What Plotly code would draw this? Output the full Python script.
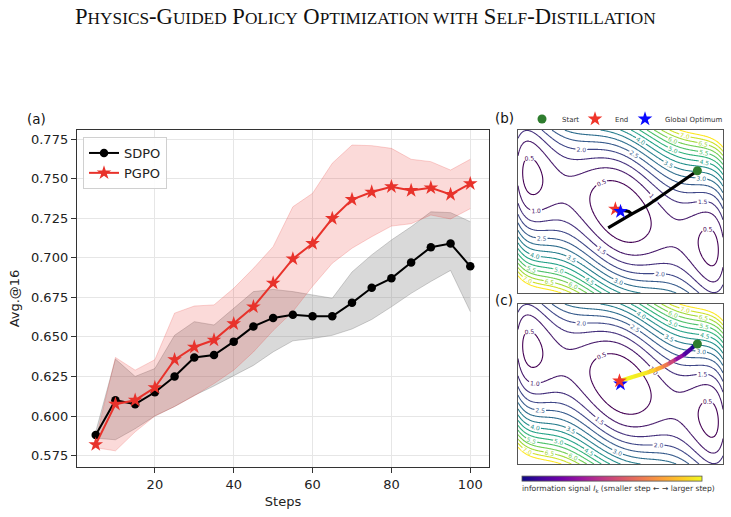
import numpy as np
import plotly.graph_objects as go
from plotly.colors import sample_colorscale

W, H = 731, 517

# ---------------- data: panel (a) ----------------
steps = [5, 10, 15, 20, 25, 30, 35, 40, 45, 50, 55, 60, 65, 70, 75, 80, 85, 90, 95, 100]
sdpo = [0.588, 0.610, 0.6075, 0.615, 0.625, 0.637, 0.6385, 0.647, 0.6566, 0.662,
        0.664, 0.663, 0.663, 0.6715, 0.681, 0.687, 0.697, 0.7066, 0.709, 0.6946]
sdpo_upper = [0.590, 0.636, 0.625, 0.630, 0.651, 0.6596, 0.6575, 0.668, 0.6786, 0.680,
              0.6786, 0.6765, 0.6744, 0.691, 0.7018, 0.7112, 0.7196, 0.729, 0.7285, 0.7228]
sdpo_lower = [0.586, 0.585, 0.592, 0.600, 0.606, 0.613, 0.619, 0.6255, 0.632, 0.6405,
              0.6475, 0.649, 0.651, 0.655, 0.661, 0.669, 0.6775, 0.685, 0.692, 0.666]
pgpo = [0.582, 0.6075, 0.610, 0.618, 0.6356, 0.6436, 0.648, 0.6583, 0.669, 0.684,
        0.6993, 0.709, 0.7248, 0.7368, 0.7415, 0.7449, 0.7425, 0.7442, 0.740, 0.7468]
pgpo_upper = [0.585, 0.637, 0.629, 0.6356, 0.665, 0.6695, 0.6702, 0.6807, 0.6933, 0.707,
              0.7322, 0.7407, 0.7597, 0.7712, 0.7708, 0.7691, 0.7622, 0.7607, 0.7554, 0.7622]
pgpo_lower = [0.580, 0.578, 0.590, 0.600, 0.606, 0.6128, 0.6205, 0.629, 0.6405, 0.654,
              0.666, 0.682, 0.6965, 0.706, 0.7133, 0.720, 0.7215, 0.727, 0.7245, 0.731]

# ---------------- data: panels (b), (c): three-hump camel landscape ----------------
contour_levels = dict(start=0.5, end=7.5, size=0.5)
domain = (-2.0, 2.0)

start_pt = (1.50, 1.00)
optimum_pt = (0.0, 0.0)
end_b = (-0.10, 0.06)
end_c = (-0.02, 0.075)

path_b_x = [1.50, 0.97, 0.51, 0.18, -0.24, 0.16, 0.22, 0.16, 0.04, -0.10]
path_b_y = [1.00, 0.53, 0.135, -0.09, -0.40, -0.11, -0.06, 0.00, 0.03, 0.06]

path_c_x = [1.49, 1.39, 1.23, 1.06, 0.93, 0.80, 0.67, 0.51, 0.25, -0.01]
path_c_y = [1.017, 0.892, 0.725, 0.600, 0.500, 0.417, 0.350, 0.283, 0.183, 0.075]
path_c_signal = [0.0, 0.05, 0.2, 0.4, 0.6, 0.75, 0.88, 0.95, 0.98, 1.0]

# ---------------- colours ----------------
RED = '#e8322b'
RED_FILL = 'rgba(232,60,55,0.19)'
RED_EDGE = 'rgba(232,60,55,0.28)'
GRAY_FILL = 'rgba(128,128,128,0.30)'
GRAY_EDGE = 'rgba(110,110,110,0.40)'
FONT = 'DejaVu Sans'


def px_x(p):
    return p / W


def px_y(p):
    return 1 - p / H


fig = go.Figure()

# bands
fig.add_trace(go.Scatter(x=steps, y=sdpo_upper, mode='lines', line=dict(color=GRAY_EDGE, width=0.8),
                         showlegend=False, hoverinfo='skip'))
fig.add_trace(go.Scatter(x=steps, y=sdpo_lower, mode='lines', line=dict(color=GRAY_EDGE, width=0.8),
                         fill='tonexty', fillcolor=GRAY_FILL, showlegend=False, hoverinfo='skip'))
fig.add_trace(go.Scatter(x=steps, y=pgpo_upper, mode='lines', line=dict(color=RED_EDGE, width=0.8),
                         showlegend=False, hoverinfo='skip'))
fig.add_trace(go.Scatter(x=steps, y=pgpo_lower, mode='lines', line=dict(color=RED_EDGE, width=0.8),
                         fill='tonexty', fillcolor=RED_FILL, showlegend=False, hoverinfo='skip'))
# lines
fig.add_trace(go.Scatter(x=steps, y=sdpo, mode='lines+markers', name='SDPO',
                         line=dict(color='black', width=2),
                         marker=dict(symbol='circle', size=8.5, color='black'), legend='legend'))
fig.add_trace(go.Scatter(x=steps, y=pgpo, mode='lines+markers', name='PGPO',
                         line=dict(color=RED, width=2),
                         marker=dict(symbol='star', size=11, color=RED), legend='legend'))

# landscape (three-hump camel)
gx = np.linspace(domain[0], domain[1], 241)
gy = np.linspace(domain[0], domain[1], 241)
GX, GY = np.meshgrid(gx, gy)
Z = 2 * GX ** 2 - 1.05 * GX ** 4 + GX ** 6 / 6 + GX * GY + GY ** 2

for xa, ya in (('x2', 'y2'), ('x3', 'y3')):
    fig.add_trace(go.Contour(x=gx, y=gy, z=Z, xaxis=xa, yaxis=ya,
                             contours=dict(coloring='lines', showlabels=True,
                                           labelfont=dict(size=6, family=FONT),
                                           labelformat='.1f', **contour_levels),
                             colorscale='Viridis', zmin=0.5, zmax=7.5, showscale=False,
                             line=dict(width=1.1), hoverinfo='skip', showlegend=False))

# panel (b) path
fig.add_trace(go.Scatter(x=path_b_x, y=path_b_y, mode='lines', line=dict(color='black', width=3.2),
                         xaxis='x2', yaxis='y2', showlegend=False, hoverinfo='skip'))
fig.add_trace(go.Scatter(x=[start_pt[0]], y=[start_pt[1]], mode='markers', name='Start',
                         marker=dict(symbol='circle', size=9, color='#2e7d2e'),
                         xaxis='x2', yaxis='y2', legend='legend2'))
fig.add_trace(go.Scatter(x=[end_b[0]], y=[end_b[1]], mode='markers', name='End',
                         marker=dict(symbol='star', size=11, color='#f0352a'),
                         xaxis='x2', yaxis='y2', legend='legend3'))
fig.add_trace(go.Scatter(x=[optimum_pt[0]], y=[optimum_pt[1]], mode='markers', name='Global Optimum',
                         marker=dict(symbol='star', size=11, color='#0a0aff'),
                         xaxis='x2', yaxis='y2', legend='legend4'))

# panel (c) coloured path
for i in range(len(path_c_x) - 1):
    v = 0.5 * (path_c_signal[i] + path_c_signal[i + 1])
    col = sample_colorscale('Plasma', [v])[0]
    fig.add_trace(go.Scatter(x=path_c_x[i:i + 2], y=path_c_y[i:i + 2], mode='lines',
                             line=dict(color=col, width=4.2), xaxis='x3', yaxis='y3',
                             showlegend=False, hoverinfo='skip'))
fig.add_trace(go.Scatter(x=path_c_x, y=path_c_y, mode='markers', xaxis='x3', yaxis='y3',
                         marker=dict(size=3, color=path_c_signal, colorscale='Plasma', cmin=0, cmax=1,
                                     showscale=True,
                                     colorbar=dict(orientation='h', thickness=5, len=180, lenmode='pixels',
                                                   x=px_x(612), xanchor='center', y=px_y(479), yanchor='middle',
                                                   xpad=0, ypad=0,
                                                   outlinewidth=0.8, outlinecolor='#555',
                                                   showticklabels=False, ticks='')),
                         showlegend=False, hoverinfo='skip'))
fig.add_trace(go.Scatter(x=[start_pt[0]], y=[start_pt[1]], mode='markers',
                         marker=dict(symbol='circle', size=9, color='#2e7d2e'),
                         xaxis='x3', yaxis='y3', showlegend=False))
fig.add_trace(go.Scatter(x=[optimum_pt[0]], y=[optimum_pt[1]], mode='markers',
                         marker=dict(symbol='star', size=11, color='#0a0aff'),
                         xaxis='x3', yaxis='y3', showlegend=False))
fig.add_trace(go.Scatter(x=[end_c[0]], y=[end_c[1]], mode='markers',
                         marker=dict(symbol='star', size=11, color='#f0352a'),
                         xaxis='x3', yaxis='y3', showlegend=False))

axis_font = dict(family=FONT, size=13, color='#222')
panel_axis = dict(range=list(domain), showticklabels=False, ticks='', showgrid=False, zeroline=False,
                  showline=True, mirror=True, linecolor='#555', linewidth=1)
small_leg = dict(orientation='h', xanchor='left', yanchor='middle', bgcolor='rgba(0,0,0,0)',
                 font=dict(family=FONT, size=7, color='#333'), itemwidth=30)
fig.update_layout(
    width=W, height=H, margin=dict(l=0, r=0, t=0, b=0),
    paper_bgcolor='white', plot_bgcolor='white',
    font=dict(family=FONT, color='#222'),
    xaxis=dict(domain=[px_x(77), px_x(489)], range=[0.25, 104.75], tickvals=[20, 40, 60, 80, 100],
               showgrid=True, gridcolor='#e6e6e6', gridwidth=1, zeroline=False,
               showline=True, mirror=True, linecolor='#333', linewidth=1.4,
               ticks='outside', ticklen=5, tickwidth=1.2, tickcolor='#333', tickfont=axis_font,
               title=dict(text='Steps', font=axis_font, standoff=6)),
    yaxis=dict(domain=[px_y(467), px_y(130)], range=[0.5678, 0.7807],
               tickvals=[0.575, 0.6, 0.625, 0.65, 0.675, 0.7, 0.725, 0.75, 0.775], tickformat='.3f',
               showgrid=True, gridcolor='#e6e6e6', gridwidth=1, zeroline=False,
               showline=True, mirror=True, linecolor='#333', linewidth=1.4,
               ticks='outside', ticklen=5, tickwidth=1.2, tickcolor='#333', tickfont=axis_font,
               title=dict(text='Avg.@16', font=axis_font, standoff=8)),
    xaxis2=dict(domain=[px_x(518), px_x(723)], anchor='y2', **panel_axis),
    yaxis2=dict(domain=[px_y(293), px_y(130)], anchor='x2', **panel_axis),
    xaxis3=dict(domain=[px_x(518), px_x(723)], anchor='y3', **panel_axis),
    yaxis3=dict(domain=[px_y(464), px_y(304)], anchor='x3', **panel_axis),
    legend=dict(x=px_x(83), y=px_y(137), xanchor='left', yanchor='top', traceorder='normal',
                bgcolor='rgba(255,255,255,0.85)', bordercolor='#d0d0d0', borderwidth=1,
                font=dict(family=FONT, size=13, color='#222'), tracegroupgap=2),
    legend2=dict(x=px_x(522), y=px_y(119), **small_leg),
    legend3=dict(x=px_x(575), y=px_y(119), **small_leg),
    legend4=dict(x=px_x(625), y=px_y(119), **small_leg),
)

small = 'font-size:17.3px'
title = ('P<span style="%s">HYSICS</span>-G<span style="%s">UIDED</span> '
         'P<span style="%s">OLICY</span> O<span style="%s">PTIMIZATION WITH</span> '
         'S<span style="%s">ELF</span>-D<span style="%s">ISTILLATION</span>') % ((small,) * 6)
annots = [
    dict(text=title, x=0.5, y=px_y(16), xref='paper', yref='paper', showarrow=False,
         font=dict(family='Liberation Serif', size=22.6, color='#111'), xanchor='center', yanchor='middle'),
    dict(text='(a)', x=px_x(25), y=px_y(119), xref='paper', yref='paper', showarrow=False,
         font=dict(family=FONT, size=13.5, color='#111'), xanchor='left', yanchor='middle'),
    dict(text='(b)', x=px_x(493), y=px_y(118.5), xref='paper', yref='paper', showarrow=False,
         font=dict(family=FONT, size=13.5, color='#111'), xanchor='left', yanchor='middle'),
    dict(text='(c)', x=px_x(493), y=px_y(300), xref='paper', yref='paper', showarrow=False,
         font=dict(family=FONT, size=13.5, color='#111'), xanchor='left', yanchor='middle'),
    dict(text='information signal <i>I</i><sub>k</sub> (smaller step ← → larger step)',
         x=px_x(618), y=px_y(488.5), xref='paper', yref='paper', showarrow=False,
         font=dict(family=FONT, size=7.6, color='#333'), xanchor='center', yanchor='middle'),
]
fig.update_layout(annotations=annots)

fig.write_html('out.html')
